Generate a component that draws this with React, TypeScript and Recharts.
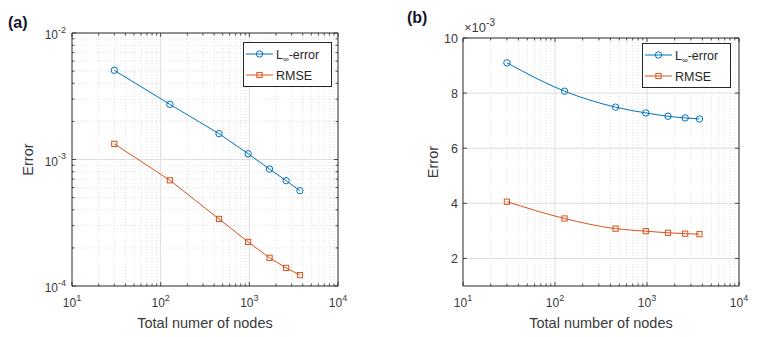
import React from 'react';
import { LineChart, Line, XAxis, YAxis, ReferenceLine, Legend } from 'recharts';

// ---------- data ----------
const nodes = [30, 127, 455, 970, 1690, 2600, 3720];
const linfA = [5.07e-3, 2.73e-3, 1.6e-3, 1.11e-3, 8.4e-4, 6.8e-4, 5.67e-4];
const rmseA = [1.33e-3, 6.85e-4, 3.39e-4, 2.23e-4, 1.67e-4, 1.39e-4, 1.22e-4];
// panel (b) values in units of 1e-3
const linfB = [9.1, 8.07, 7.49, 7.28, 7.16, 7.1, 7.06];
const rmseB = [4.06, 3.45, 3.08, 2.99, 2.93, 2.9, 2.88];

const xMajor = [10, 100, 1000, 10000];
const minorMult = [2, 3, 4, 5, 6, 7, 8, 9];
const xMinor = [10, 100, 1000].flatMap((d) => minorMult.map((m) => m * d));
const yMajorA = [1e-4, 1e-3, 1e-2];
const yMinorA = [1e-4, 1e-3].flatMap((d) => minorMult.map((m) => +(m * d).toPrecision(3)));
const yTicksB = [2, 4, 6, 8, 10];

const seriesNames = ['L∞-error', 'RMSE'];

const dataA = nodes.map((n, i) => ({ n, linf: linfA[i], rmse: rmseA[i] }));
const dataB = nodes.map((n, i) => ({ n, linf: linfB[i], rmse: rmseB[i] }));

// ---------- style ----------
const BLUE = '#0072BD';
const ORANGE = '#D95319';
const AX = '#262626';
const TXT = '#3a3a3a';
const GRID = '#dedede';
const GRIDMINOR = '#d6d6d6';
const FONT = '"Liberation Sans", Arial, sans-serif';

const isMajorLog = (v: number) => Math.abs(Math.log10(v) - Math.round(Math.log10(v))) < 1e-6;

const makeXTick = (plotH: number) => (props: any) => {
  const { x, y, payload } = props;
  const v = payload.value;
  const major = isMajorLog(v);
  const len = major ? 4 : 2.5;
  const exp = Math.round(Math.log10(v));
  return (
    <g>
      <line x1={x} x2={x} y1={y} y2={y - len} stroke={AX} strokeWidth={0.8} />
      <line x1={x} x2={x} y1={y - plotH} y2={y - plotH + len} stroke={AX} strokeWidth={0.8} />
      {major && (
        <text x={x} y={y + 21} textAnchor="middle" fontSize={12} fill={TXT} fontFamily={FONT}>
          10<tspan dy={-6.5} fontSize={9}>{exp}</tspan>
        </text>
      )}
    </g>
  );
};

const makeYLogTick = (plotW: number) => (props: any) => {
  const { x, y, payload } = props;
  const v = payload.value;
  const major = isMajorLog(v);
  const len = major ? 4 : 2.5;
  const exp = Math.round(Math.log10(v));
  return (
    <g>
      <line x1={x} x2={x + len} y1={y} y2={y} stroke={AX} strokeWidth={0.8} />
      <line x1={x + plotW} x2={x + plotW - len} y1={y} y2={y} stroke={AX} strokeWidth={0.8} />
      {major && (
        <text x={x - 6} y={y + 6} textAnchor="end" fontSize={12} fill={TXT} fontFamily={FONT}>
          10<tspan dy={-6.5} fontSize={9}>{exp}</tspan>
        </text>
      )}
    </g>
  );
};

const makeYLinTick = (plotW: number) => (props: any) => {
  const { x, y, payload } = props;
  const len = 4;
  return (
    <g>
      <line x1={x} x2={x + len} y1={y} y2={y} stroke={AX} strokeWidth={0.8} />
      <line x1={x + plotW} x2={x + plotW - len} y1={y} y2={y} stroke={AX} strokeWidth={0.8} />
      <text x={x - 5} y={y + 4.5} textAnchor="end" fontSize={12.5} fill={TXT} fontFamily={FONT}>
        {payload.value}
      </text>
    </g>
  );
};

const CircleDot = (props: any) => {
  const { cx, cy, index } = props;
  if (cx == null || cy == null) return <g key={index} />;
  return <circle key={index} cx={cx} cy={cy} r={3.2} fill="none" stroke={BLUE} strokeWidth={1} />;
};

const SquareDot = (props: any) => {
  const { cx, cy, index } = props;
  if (cx == null || cy == null) return <g key={index} />;
  return <rect key={index} x={cx - 2.6} y={cy - 2.6} width={5.2} height={5.2} fill="none" stroke={ORANGE} strokeWidth={1} />;
};

const LegendBox = () => (
  <svg width={89} height={45} style={{ display: 'block' }}>
    <rect x={0.5} y={0.5} width={88} height={44} fill="#fff" stroke={AX} strokeWidth={1} />
    <line x1={3} x2={30} y1={12} y2={12} stroke={BLUE} strokeWidth={1} />
    <circle cx={16.5} cy={12} r={3.2} fill="none" stroke={BLUE} strokeWidth={1} />
    <text x={33} y={16.5} fontSize={12.5} fill={AX} fontFamily={FONT}>
      L<tspan dy={3} fontSize={8}>∞</tspan>
      <tspan dy={-3}>-error</tspan>
    </text>
    <line x1={3} x2={30} y1={33} y2={33} stroke={ORANGE} strokeWidth={1} />
    <rect x={13.9} y={30.4} width={5.2} height={5.2} fill="none" stroke={ORANGE} strokeWidth={1} />
    <text x={33} y={37.5} fontSize={12.5} fill={AX} fontFamily={FONT}>
      {seriesNames[1]}
    </text>
  </svg>
);

const xTitle = (text: string) => (props: any) => {
  const vb = props.viewBox;
  return (
    <text x={vb.x + vb.width / 2} y={vb.y + vb.height - 9} textAnchor="middle" fontSize={14.5} fill={TXT} fontFamily={FONT}>
      {text}
    </text>
  );
};

const yTitle = (cx: number) => (props: any) => {
  const vb = props.viewBox;
  const cy = vb.y + vb.height / 2;
  return (
    <text
      x={cx}
      y={cy}
      transform={`rotate(-90, ${cx}, ${cy})`}
      textAnchor="middle"
      dominantBaseline="central"
      fontSize={14.5}
      fill={TXT}
      fontFamily={FONT}
    >
      Error
    </text>
  );
};

// geometry of the two panels
const A_W = 380;
const H = 337;
const A_PLOT_W = 266;
const A_PLOT_H = 253;
const B_W = 381;
const B_PLOT_W = 276;
const B_PLOT_H = 248;

export default function App() {
  return (
    <div style={{ position: 'absolute', left: 0, top: 0, width: 761, height: 337, background: '#fff', overflow: 'hidden' }}>
      <div style={{ position: 'absolute', left: 0, top: 0 }}>
        <LineChart width={A_W} height={H} data={dataA} margin={{ top: 33, right: 42, left: 0, bottom: 0 }}>
          <XAxis
            type="number"
            dataKey="n"
            scale="log"
            domain={[10, 10000]}
            allowDataOverflow
            ticks={[...xMajor, ...xMinor]}
            interval={0}
            tickSize={0}
            tickMargin={0}
            tickLine={false}
            axisLine={{ stroke: AX, strokeWidth: 1 }}
            tick={makeXTick(A_PLOT_H)}
            height={51}
            label={{ content: xTitle('Total numer of nodes') }}
          />
          <YAxis
            type="number"
            scale="log"
            domain={[1e-4, 1e-2]}
            allowDataOverflow
            ticks={[...yMajorA, ...yMinorA]}
            interval={0}
            tickSize={0}
            tickMargin={0}
            tickLine={false}
            axisLine={{ stroke: AX, strokeWidth: 1 }}
            tick={makeYLogTick(A_PLOT_W)}
            width={72}
            label={{ content: yTitle(28) }}
          />
          {xMinor.map((v) => (
            <ReferenceLine key={'xm' + v} x={v} stroke={GRIDMINOR} strokeDasharray="1 2" strokeWidth={0.8} />
          ))}
          {yMinorA.map((v) => (
            <ReferenceLine key={'ym' + v} y={v} stroke={GRIDMINOR} strokeDasharray="1 2" strokeWidth={0.8} />
          ))}
          <ReferenceLine x={100} stroke={GRID} strokeWidth={1} />
          <ReferenceLine x={1000} stroke={GRID} strokeWidth={1} />
          <ReferenceLine y={1e-3} stroke={GRID} strokeWidth={1} />
          <ReferenceLine x={10000} stroke={AX} strokeWidth={1} />
          <ReferenceLine y={1e-2} stroke={AX} strokeWidth={1} />
          <Line type="linear" dataKey="linf" name={seriesNames[0]} stroke={BLUE} strokeWidth={1} dot={CircleDot} isAnimationActive={false} />
          <Line type="linear" dataKey="rmse" name={seriesNames[1]} stroke={ORANGE} strokeWidth={1} dot={SquareDot} isAnimationActive={false} />
          <Legend
            layout="vertical"
            align="center"
            verticalAlign="middle"
            content={() => <LegendBox />}
            wrapperStyle={{ position: 'absolute', left: 243, top: 42, width: 89, height: 45 }}
          />
          <text x={8} y={28} fontSize={16} fontWeight="bold" fill="#161630" fontFamily={FONT}>
            (a)
          </text>
        </LineChart>
      </div>
      <div style={{ position: 'absolute', left: 380, top: 0 }}>
        <LineChart width={B_W} height={H} data={dataB} margin={{ top: 38, right: 22, left: 0, bottom: 0 }}>
          <XAxis
            type="number"
            dataKey="n"
            scale="log"
            domain={[10, 10000]}
            allowDataOverflow
            ticks={[...xMajor, ...xMinor]}
            interval={0}
            tickSize={0}
            tickMargin={0}
            tickLine={false}
            axisLine={{ stroke: AX, strokeWidth: 1 }}
            tick={makeXTick(B_PLOT_H)}
            height={51}
            label={{ content: xTitle('Total number of nodes') }}
          />
          <YAxis
            type="number"
            domain={[1, 10]}
            allowDataOverflow
            ticks={yTicksB}
            interval={0}
            tickSize={0}
            tickMargin={0}
            tickLine={false}
            axisLine={{ stroke: AX, strokeWidth: 1 }}
            tick={makeYLinTick(B_PLOT_W)}
            width={83}
            label={{ content: yTitle(52.5) }}
          />
          {xMinor.map((v) => (
            <ReferenceLine key={'xm' + v} x={v} stroke={GRIDMINOR} strokeDasharray="1 2" strokeWidth={0.8} />
          ))}
          <ReferenceLine x={100} stroke={GRID} strokeWidth={1} />
          <ReferenceLine x={1000} stroke={GRID} strokeWidth={1} />
          {[2, 4, 6, 8].map((v) => (
            <ReferenceLine key={'yg' + v} y={v} stroke={GRID} strokeWidth={1} />
          ))}
          <ReferenceLine x={10000} stroke={AX} strokeWidth={1} />
          <ReferenceLine y={10} stroke={AX} strokeWidth={1} />
          <Line type="monotone" dataKey="linf" name={seriesNames[0]} stroke={BLUE} strokeWidth={1} dot={CircleDot} isAnimationActive={false} />
          <Line type="monotone" dataKey="rmse" name={seriesNames[1]} stroke={ORANGE} strokeWidth={1} dot={SquareDot} isAnimationActive={false} />
          <Legend
            layout="vertical"
            align="center"
            verticalAlign="middle"
            content={() => <LegendBox />}
            wrapperStyle={{ position: 'absolute', left: 262, top: 43, width: 89, height: 45 }}
          />
          <text x={27} y={23} fontSize={16} fontWeight="bold" fill="#161630" fontFamily={FONT}>
            (b)
          </text>
          <text x={84} y={32} fontSize={13} fill={TXT} fontFamily={FONT}>
            ×10<tspan dy={-6.5} fontSize={10}>-3</tspan>
          </text>
        </LineChart>
      </div>
    </div>
  );
}
